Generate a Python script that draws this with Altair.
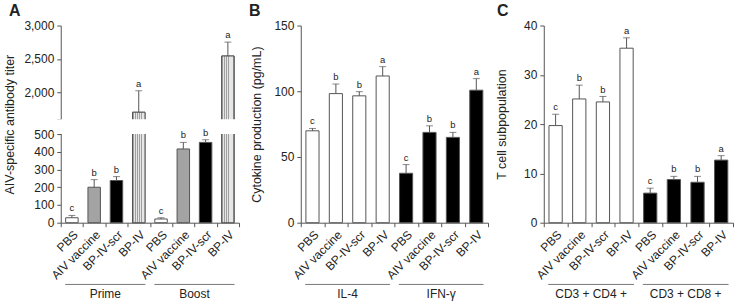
import altair as alt
import pandas as pd

FONT = "Liberation Sans"
INK = "#222222"
LINE = "#555555"

groups = ["PBS", "AIV vaccine", "BP-IV-scr", "BP-IV"]

# Panel A: AIV-specific antibody titer
a_sets = ["Prime", "Boost"]
a_prime_mean = [28, 200, 238, 1703]
a_prime_top = [41, 243, 260, 2024]
a_prime_sig = ["c", "b", "b", "a"]
a_boost_mean = [21, 416, 453, 2544]
a_boost_top = [28, 453, 468, 2752]
a_boost_sig = ["c", "b", "b", "a"]
a_ticks = [0, 100, 200, 300, 400, 500, 1600, 2000, 2500, 3000]

# Panel B: cytokine production (pg/mL)
b_sets = ["IL-4", "IFN-γ"]
b_il4_mean = [69.9, 98.2, 96.5, 111.6]
b_il4_top = [71.7, 105.5, 99.7, 118.7]
b_il4_sig = ["c", "b", "b", "a"]
b_ifn_mean = [37.6, 68.7, 64.9, 100.8]
b_ifn_top = [44.2, 73.7, 68.7, 109.6]
b_ifn_sig = ["c", "b", "b", "a"]
b_ticks = [0, 50, 100, 150]

# Panel C: T cell subpopulation
c_sets = ["CD3 + CD4 +", "CD3 + CD8 +"]
c_cd4_mean = [19.7, 25.1, 24.5, 35.4]
c_cd4_top = [22.0, 27.9, 25.6, 37.5]
c_cd4_sig = ["c", "b", "b", "a"]
c_cd8_mean = [6.0, 8.75, 8.2, 12.7]
c_cd8_top = [7.0, 9.4, 9.4, 13.6]
c_cd8_sig = ["c", "b", "b", "a"]
c_ticks = [0, 10, 20, 30, 40]

H = 198

# striped fill for BP-IV bars in panel A
LIGHT, DARK = "#e6e6e6", "#a0a0a0"
stops = [{"color": LIGHT, "offset": 0}]
n = 6
for k in range(n):
    c = (k + 0.5) / n
    stops += [{"color": LIGHT, "offset": c - 0.035},
              {"color": DARK, "offset": c - 0.035},
              {"color": DARK, "offset": c + 0.035},
              {"color": LIGHT, "offset": c + 0.035}]
stops.append({"color": LIGHT, "offset": 1})
STRIPES = {"gradient": "linear", "x1": 0, "x2": 1, "y1": 0, "y2": 0, "stops": stops}


def panel_df(sets, means, tops, sigs, fills):
    rows = []
    for s, ms, ts, gs, fs in zip(sets, means, tops, sigs, fills):
        for grp, m, t, g, f in zip(groups, ms, ts, gs, fs):
            rows.append(dict(key=f"{s}|{grp}", label=grp, set=s, mean=m, top=t, sig=g, fill=f))
    return pd.DataFrame(rows)


def make_panel(df, sets, W, yscale, ticks, ytitle, title_x, letter, letter_x,
               label_expr=None, stripes=False, gap=None):
    keys = list(df["key"])
    xenc = alt.X("key:N", sort=keys,
                 scale=alt.Scale(paddingInner=0, paddingOuter=0),
                 axis=alt.Axis(title=None, labelExpr="split(datum.label, '|')[1]",
                               labelAngle=-45, tickBand="extent", labelPadding=2,
                               tickSize=4, labelFontSize=12))
    yaxis_kw = dict(values=ticks, title=ytitle, titleX=title_x, titleY=H / 2,
                    grid=False, tickSize=4, labelPadding=3)
    if label_expr:
        yaxis_kw["labelExpr"] = label_expr

    def Y(field):
        return alt.Y(f"{field}:Q", scale=yscale, title=ytitle, axis=alt.Axis(**yaxis_kw))

    base = alt.Chart(df)
    layers = [
        base.mark_bar(stroke=LINE, strokeWidth=1, width=alt.RelativeBandSize(0.56)).encode(
            x=xenc, y=Y("mean"), fill=alt.Fill("fill:N", scale=None)),
    ]
    if stripes:
        layers.append(base.transform_filter(alt.datum.label == "BP-IV").mark_bar(
            fill=STRIPES, stroke=LINE, strokeWidth=1, width=alt.RelativeBandSize(0.56)).encode(
            x=xenc, y=Y("mean")))
    layers += [
        base.mark_rule(color=LINE, strokeWidth=1).encode(x=xenc, y=Y("mean"), y2="top:Q"),
        base.mark_tick(color=LINE, size=7, thickness=1).encode(x=xenc, y=Y("top")),
    ]
    if gap:
        layers.append(alt.Chart(pd.DataFrame({"mean": [gap[0]], "top": [gap[1]]})).mark_rect(
            fill="white").encode(x=alt.value(-7), x2=alt.value(W + 3), y=Y("mean"), y2="top:Q"))
    layers.append(base.mark_text(fontSize=9.5, baseline="bottom", dy=-2, color=INK, font=FONT).encode(
        x=xenc, y=Y("top"), text="sig:N"))
    band = W / 8
    for i, s in enumerate(sets):
        x1 = i * 4 * band + 4.5
        x2 = (i + 1) * 4 * band - 4.5
        sd = alt.Chart(pd.DataFrame({"set": [s]}))
        layers.append(sd.mark_rule(color="#777777", strokeWidth=1).encode(
            x=alt.value(x1), x2=alt.value(x2), y=alt.value(H + 62)))
        layers.append(sd.mark_text(fontSize=12, color=INK, baseline="middle", font=FONT).encode(
            x=alt.value((x1 + x2) / 2), y=alt.value(H + 72), text="set:N"))
    layers.append(alt.Chart(pd.DataFrame({"p": [letter]})).mark_text(
        fontSize=16, fontWeight="bold", align="left", baseline="alphabetic", color=INK, font=FONT).encode(
        x=alt.value(letter_x), y=alt.value(-10), text="p:N"))
    return alt.layer(*layers).properties(width=W, height=H)


df_a = panel_df(a_sets, [a_prime_mean, a_boost_mean], [a_prime_top, a_boost_top],
                [a_prime_sig, a_boost_sig],
                [["white", "#a3a3a3", "black", "white"]] * 2)
df_b = panel_df(b_sets, [b_il4_mean, b_ifn_mean], [b_il4_top, b_ifn_top],
                [b_il4_sig, b_ifn_sig], [["white"] * 4, ["black"] * 4])
df_c = panel_df(c_sets, [c_cd4_mean, c_cd8_mean], [c_cd4_top, c_cd8_top],
                [c_cd4_sig, c_cd8_sig], [["white"] * 4, ["black"] * 4])

scale_a = alt.Scale(domain=[0, 500, 1600, 3000], range=[H, H - 89, 94, 0], nice=False, zero=False)
panel_a = make_panel(df_a, a_sets, 179, scale_a, a_ticks, "AIV-specific antibody titer", -44, "A", -52,
                     label_expr="datum.value == 1600 ? '' : format(datum.value, ',')",
                     stripes=True, gap=(505, 1590))
panel_b = make_panel(df_b, b_sets, 188, alt.Scale(domain=[0, 150], nice=False), b_ticks,
                     "Cytokine production (pg/mL)", -37, "B", -52)
panel_c = make_panel(df_c, c_sets, 190, alt.Scale(domain=[0, 40], nice=False), c_ticks,
                     "T cell subpopulation", -35, "C", -47)

chart = alt.hconcat(panel_a, panel_b, panel_c, spacing=7).configure(
    padding={"left": 4, "top": 2, "right": 0, "bottom": 0}, font=FONT
).configure_view(stroke=None).configure_axis(
    domainColor=LINE, tickColor=LINE, labelColor=INK, titleColor=INK,
    labelFont=FONT, titleFont=FONT, labelFontSize=12, titleFontSize=12.5,
    titleFontWeight="normal"
)

chart.save("out.html", embed_options={"renderer": "svg", "actions": False})
